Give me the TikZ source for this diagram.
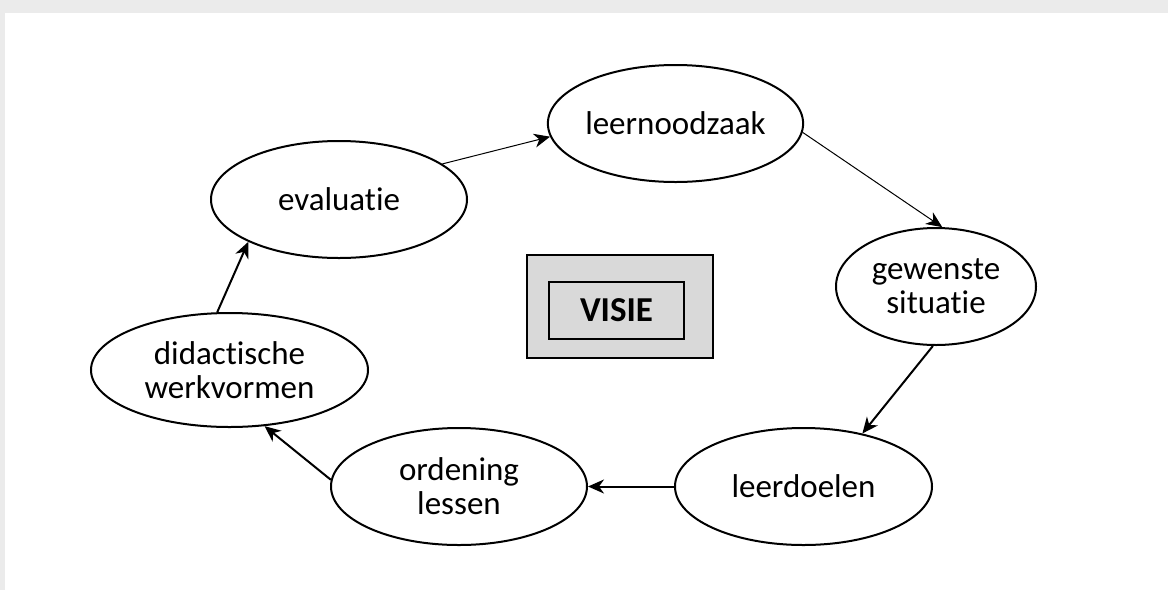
\documentclass[tikz,border=0pt]{standalone}
\usepackage{fontspec}
\setmainfont{Carlito}[Ligatures=NoCommon]
\usetikzlibrary{shapes.geometric,arrows.meta}

\definecolor{rand}{HTML}{EBEBEB}
\definecolor{kader}{HTML}{D9D9D9}

\begin{document}
\begin{tikzpicture}[
  x=0.5pt,
  y=-0.5pt,
  stap/.style={ellipse, draw, line width=1pt, fill=white, inner sep=0pt,
    align=center, font=\fontsize{16.5}{17}\selectfont},
  pijl/.style={-{Stealth[length=8pt,width=7pt,inset=2.5pt]}, line width=1pt},
  dunpijl/.style={pijl, line width=0.5pt}
]

% Background
\fill[rand] (0,0) rectangle (1168,590);
\fill[white] (5,13) rectangle (1168,590);
\useasboundingbox (0,0) rectangle (1168,590);

% Vision in the middle
\node[draw, line width=0.8pt, fill=kader, minimum width=93pt, minimum height=51.5pt]
  (visiekader) at (620,306.5) {};
\node[draw, line width=0.8pt, minimum width=67.5pt, minimum height=28.5pt,
  font=\fontsize{17.5}{20}\selectfont\bfseries] (visie) at (616.5,310.5) {VISIE};

% Cycle steps
\node[stap, minimum width=127.5pt, minimum height=58.5pt] (noodzaak) at (675.5,123.5) {leernoodzaak};
\node[stap, minimum width=100pt, minimum height=58.5pt] (gewenst) at (936,286.5) {gewenste\\situatie};
\node[stap, minimum width=128.5pt, minimum height=58.5pt] (doelen) at (803.5,486.5) {leerdoelen};
\node[stap, minimum width=128pt, minimum height=58.5pt] (ordening) at (459,486.5) {ordening\\lessen};
\node[stap, minimum width=138.5pt, minimum height=57pt] (werkvorm) at (229.5,370) {didactische\\werkvormen};
\node[stap, minimum width=128pt, minimum height=58.5pt] (evaluatie) at (339,199.5) {evaluatie};

% Arrows
\draw[dunpijl] (evaluatie.19) -- (noodzaak.186);
\draw[dunpijl] (noodzaak.-4) -- (gewenst.84);
\draw[pijl] (gewenst.-93) -- (doelen.42);
\draw[pijl] (doelen.180) -- (ordening.0);
\draw[pijl] (ordening.177) -- (werkvorm.-58);
\draw[pijl] (werkvorm.102) -- (evaluatie.205);

\end{tikzpicture}
\end{document}
